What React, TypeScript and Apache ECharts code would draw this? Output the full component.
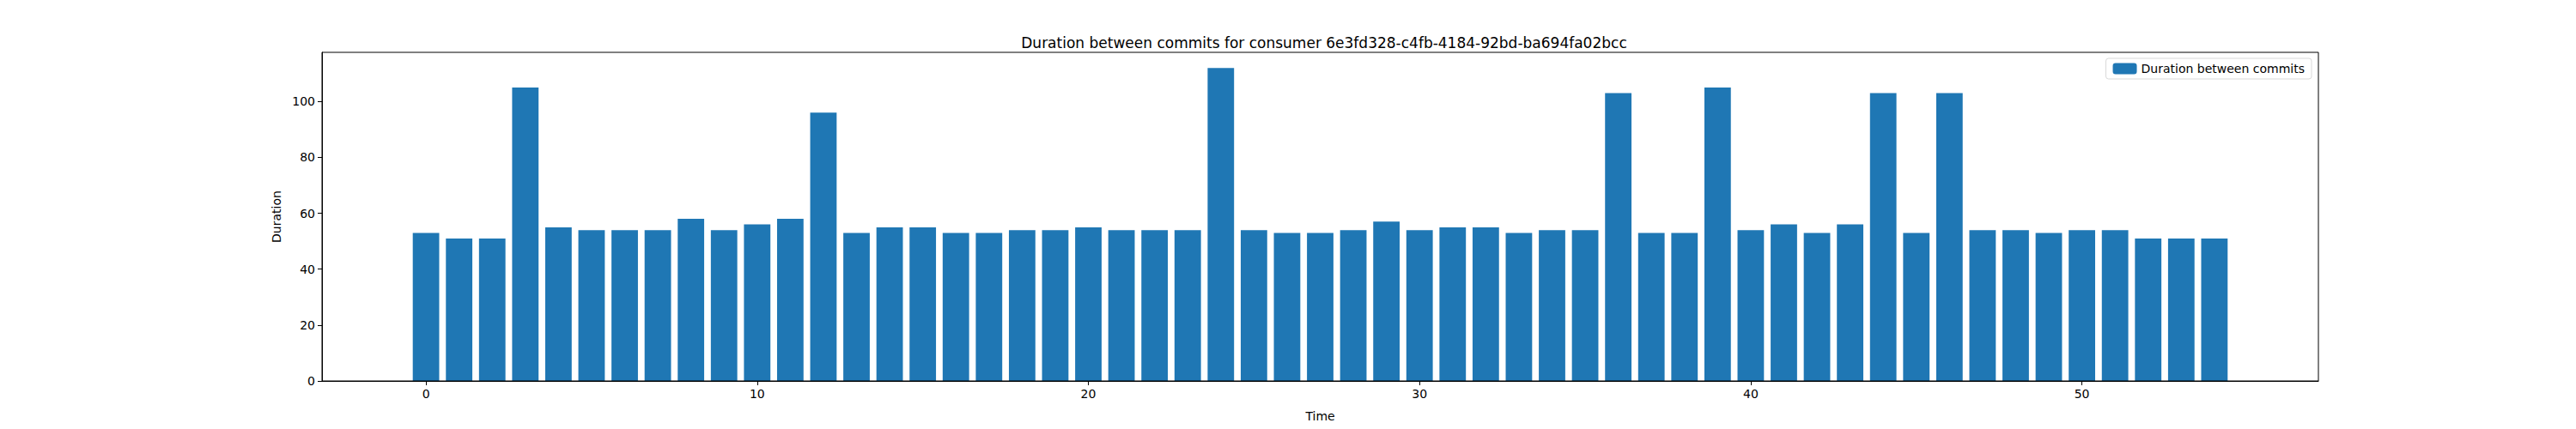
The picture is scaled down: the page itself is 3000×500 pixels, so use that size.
import React, { useEffect, useRef } from "react";
import * as echarts from "echarts";

const durations = [
  53, 51, 51, 105, 55, 54, 54, 54, 58, 54, 56, 58, 96, 53, 55, 55, 53, 53, 54, 54,
  55, 54, 54, 54, 112, 54, 53, 53, 54, 57, 54, 55, 55, 53, 54, 54, 103, 53, 53, 105,
  54, 56, 53, 56, 103, 53, 103, 54, 54, 53, 54, 54, 51, 51, 51,
];
const xTicks = [0, 10, 20, 30, 40, 50];
const yTicks = [0, 20, 40, 60, 80, 100];

const FONT = "DejaVu Sans";

const App: React.FC = () => {
  const chartRef = useRef<HTMLDivElement | null>(null);

  useEffect(() => {
    if (!chartRef.current) return;
    const chart = echarts.init(chartRef.current, undefined, { renderer: "svg" });

    const option: echarts.EChartsOption = {
      animation: false,
      backgroundColor: "#fff",
      textStyle: { fontFamily: FONT },
      title: {
        text: "Duration between commits for consumer 6e3fd328-c4fb-4184-92bd-ba694fa02bcc",
        left: 1537,
        textAlign: "center",
        top: 36,
        textStyle: { fontFamily: FONT, fontSize: 17, fontWeight: "normal", color: "#000" },
      },
      legend: {
        right: 308,
        top: 68,
        itemWidth: 28,
        itemHeight: 13,
        padding: [5, 8],
        borderColor: "#d9d9d9",
        borderWidth: 1,
        borderRadius: 3,
        textStyle: { fontFamily: FONT, fontSize: 14, color: "#000" },
        data: ["Duration between commits"],
      },
      grid: { left: 375, right: 300, top: 61, bottom: 56 },
      xAxis: {
        type: "value",
        min: -3.14,
        max: 57.14,
        name: "Time",
        nameLocation: "middle",
        nameGap: 34,
        nameTextStyle: { fontFamily: FONT, fontSize: 14, color: "#000" },
        axisLine: { show: true, onZero: false, lineStyle: { color: "#000" } },
        axisTick: { show: true, customValues: xTicks, length: 5, lineStyle: { color: "#000" } },
        axisLabel: { customValues: xTicks, fontSize: 14, color: "#000", margin: 8 },
        splitLine: { show: false },
      },
      yAxis: {
        type: "value",
        min: 0,
        max: 117.6,
        name: "Duration",
        nameLocation: "middle",
        nameGap: 42,
        nameTextStyle: { fontFamily: FONT, fontSize: 14, color: "#000" },
        axisLine: { show: true, onZero: false, lineStyle: { color: "#000" } },
        axisTick: { show: true, customValues: yTicks, length: 5, lineStyle: { color: "#000" } },
        axisLabel: { customValues: yTicks, fontSize: 14, color: "#000", margin: 8 },
        splitLine: { show: false },
      },
      graphic: [
        {
          type: "rect",
          shape: { x: 375, y: 61, width: 2325, height: 383 },
          style: { fill: "none", stroke: "#000", lineWidth: 1 },
          silent: true,
          z: 10,
        },
      ],
      series: [
        {
          name: "Duration between commits",
          type: "bar",
          data: durations.map((v, i) => [i, v]),
          barWidth: 30.8,
          itemStyle: { color: "#1f77b4" },
        },
      ],
    };

    chart.setOption(option);
    return () => chart.dispose();
  }, []);

  return (
    <div
      ref={chartRef}
      style={{ position: "absolute", left: 0, top: 0, width: 3000, height: 500 }}
    />
  );
};

export default App;
